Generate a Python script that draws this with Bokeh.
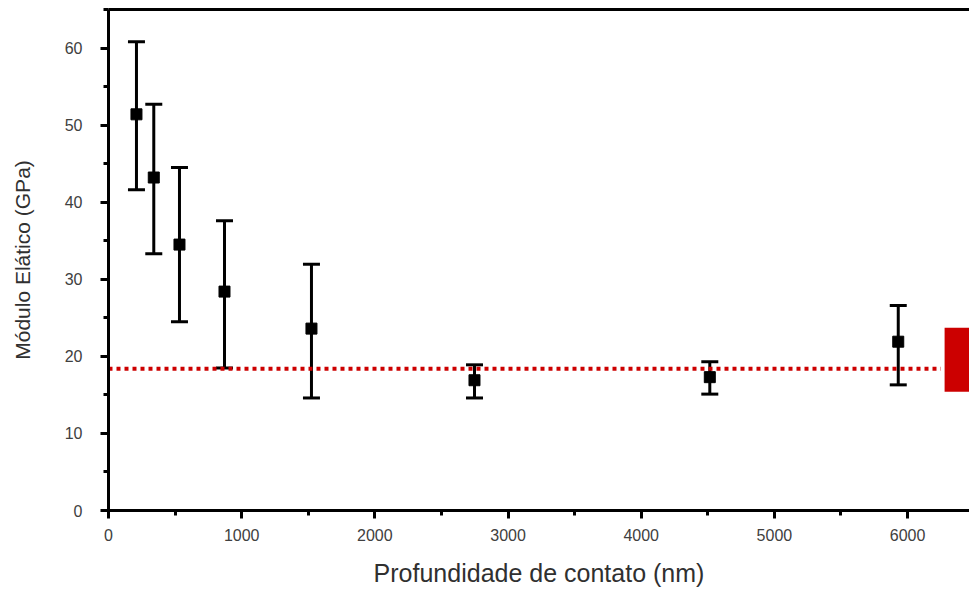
from bokeh.plotting import figure
from bokeh.models import (ColumnDataSource, Whisker, TeeHead, SingleIntervalTicker,
                          LinearAxis, Range1d, FixedTicker)
from bokeh.embed import file_html
from bokeh.resources import INLINE

# data
depth = [210, 340, 533, 871, 1524, 2748, 4515, 5930]
modulus = [51.4, 43.2, 34.5, 28.4, 23.6, 16.9, 17.3, 21.9]
err_upper = [60.8, 52.7, 44.5, 37.6, 31.95, 18.9, 19.3, 26.6]
err_lower = [41.6, 33.3, 24.5, 18.5, 14.6, 14.6, 15.1, 16.3]

ref_x = [0, 6250]
ref_y = [18.4, 18.4]

box_left = [6278]
box_right = [6800]
box_bottom = [15.4]
box_top = [23.7]

x_label = "Profundidade de contato (nm)"
y_label = "Módulo Elático (GPa)"

FONT = "Liberation Sans"

p = figure(width=969, height=589, output_backend="svg", toolbar_location=None,
           x_range=Range1d(0, 6465), y_range=Range1d(0, 65),
           min_border_left=108, min_border_right=0, min_border_top=9, min_border_bottom=78)
p.background_fill_color = "white"
p.border_fill_color = "white"
p.outline_line_color = None
p.xgrid.visible = False
p.ygrid.visible = False

# reference line
p.line(ref_x, ref_y, line_color="#cc0000", line_width=4, line_dash="4 4")

# red box at right edge
p.quad(left=box_left, right=box_right, bottom=box_bottom, top=box_top,
       fill_color="#cc0000", line_color=None)

src = ColumnDataSource(dict(x=depth, y=modulus, upper=err_upper, lower=err_lower))
w = Whisker(source=src, base="x", upper="upper", lower="lower",
            line_color="black", line_width=3,
            upper_head=TeeHead(size=17, line_color="black", line_width=3),
            lower_head=TeeHead(size=17, line_color="black", line_width=3))
p.add_layout(w)
p.scatter("x", "y", source=src, marker="square", size=11,
          fill_color="black", line_color="black")

for ax in (p.xaxis[0], p.yaxis[0]):
    ax.axis_line_width = 3
    ax.major_tick_line_width = 3
    ax.minor_tick_line_width = 3
    ax.major_tick_in = 0
    ax.major_tick_out = 8
    ax.minor_tick_in = 0
    ax.minor_tick_out = 5
    ax.major_label_text_font = FONT
    ax.major_label_text_font_size = "16px"
    ax.major_label_text_color = "#404040"
    ax.axis_label_text_font = FONT
    ax.axis_label_text_font_style = "normal"
    ax.axis_label_text_color = "#303030"

p.xaxis.ticker = SingleIntervalTicker(interval=1000, num_minor_ticks=2)
p.yaxis.ticker = SingleIntervalTicker(interval=10, num_minor_ticks=2)
p.xaxis.axis_label = x_label
p.yaxis.axis_label = y_label
p.xaxis.axis_label_text_font_size = "25px"
p.yaxis.axis_label_text_font_size = "21px"
p.xaxis.major_label_standoff = 10
p.yaxis.major_label_standoff = 18
p.xaxis.axis_label_standoff = 15
p.yaxis.axis_label_standoff = 28

top = LinearAxis(ticker=FixedTicker(ticks=[]), axis_line_width=3,
                 major_tick_out=0, major_tick_in=0, minor_tick_out=0, minor_tick_in=0,
                 major_label_text_font_size="0px")
p.add_layout(top, "above")

open("out.html", "w").write(file_html(p, INLINE))
